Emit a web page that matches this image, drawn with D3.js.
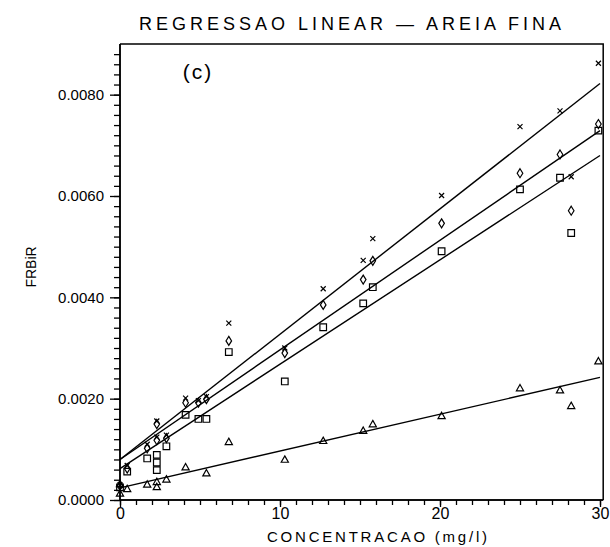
<!DOCTYPE html>
<html>
<head>
<meta charset="utf-8">
<script src="https://cdn.jsdelivr.net/npm/d3@7"></script>
<style>
  body { margin: 0; background: #fff; }
  text { font-family: "Liberation Sans", Arial, sans-serif; fill: #000; }
</style>
</head>
<body>
<div id="chart"></div>
<script>
var svgWidth = 610;
var svgHeight = 547;

// Data (concentration in mg/l, FRBiR)
var crossX = [0, 0.45, 1.7, 2.3, 2.3, 2.9, 4.1, 4.9, 5.4, 6.8, 10.3, 12.7, 15.2, 15.8, 20.1, 25.0, 27.5, 28.2, 29.9];
var crossY = [0.00030, 0.00068, 0.00110, 0.00156, 0.00124, 0.00128, 0.00201, 0.00196, 0.00204, 0.00349, 0.00300, 0.00417, 0.00473, 0.00516, 0.00601, 0.00737, 0.00768, 0.00638, 0.00862];

var diamondX = [0, 0.45, 1.7, 2.3, 2.3, 2.9, 4.1, 4.9, 5.4, 6.8, 10.3, 12.7, 15.2, 15.8, 20.1, 25.0, 27.5, 28.2, 29.9];
var diamondY = [0.00028, 0.00062, 0.00102, 0.00150, 0.00118, 0.00122, 0.00192, 0.00192, 0.00199, 0.00314, 0.00290, 0.00385, 0.00435, 0.00472, 0.00546, 0.00645, 0.00682, 0.00571, 0.00742];

var squareX = [0, 0.45, 1.7, 2.3, 2.3, 2.3, 2.9, 4.1, 4.9, 5.4, 6.8, 10.3, 12.7, 15.2, 15.8, 20.1, 25.0, 27.5, 28.2, 29.9];
var squareY = [0.00025, 0.00056, 0.00082, 0.00089, 0.00074, 0.00059, 0.00106, 0.00168, 0.00160, 0.00160, 0.00292, 0.00234, 0.00341, 0.00388, 0.00420, 0.00491, 0.00613, 0.00636, 0.00527, 0.00729];

var triX = [0, 0, 0.45, 1.7, 2.3, 2.3, 2.9, 4.1, 5.4, 6.8, 10.3, 12.7, 15.2, 15.8, 20.1, 25.0, 27.5, 28.2, 29.9];
var triY = [0.00013, 0.00032, 0.00022, 0.00031, 0.00026, 0.00036, 0.00041, 0.00065, 0.00053, 0.00115, 0.00080, 0.00117, 0.00137, 0.00150, 0.00166, 0.00221, 0.00217, 0.00186, 0.00274];

// regression lines, values at x = 0 and x = 30
var fitX = [0, 30];
var fitCross = [0.00080, 0.00822];
var fitDiamond = [0.00080, 0.00729];
var fitSquare = [0.00062, 0.00680];
var fitTri = [0.00024, 0.00242];

var xMajor = [0, 10, 20, 30];
var yMajor = [0, 0.002, 0.004, 0.006, 0.008];

var svg = d3.select("#chart")
  .append("svg")
  .attr("width", svgWidth)
  .attr("height", svgHeight);

var x = d3.scaleLinear().domain([0, 30]).range([120, 600]);
var y = d3.scaleLinear().domain([0, 0.009]).range([500, 44]);

var xMinor = d3.range(0, 31, 1);
var yMinor = d3.range(0, 45, 1).map(d => d * 0.0002);

// frame (top and right)
svg.append("path")
  .attr("d", `M${x(0)},${y(0.009)} H${x(30.2)} V${y(0)}`)
  .attr("fill", "none")
  .attr("stroke", "#000")
  .attr("stroke-width", 1.5);

// x axis
var gx = svg.append("g").attr("transform", `translate(0, ${y(0)})`);
gx.call(d3.axisBottom(x).tickValues(xMinor).tickSize(5).tickFormat(""));
gx.append("g").call(d3.axisBottom(x).tickValues(xMajor).tickSize(7).tickPadding(1)
  .tickFormat(d3.format("d")));
gx.selectAll(".domain").attr("stroke-width", 1.5).attr("d", `M${x(0)},0H${x(30.2)}`);
gx.selectAll("line").attr("stroke-width", 1.3);
gx.selectAll("text").style("font-size", "16px").attr("fill", "#000");

// y axis
var gy = svg.append("g").attr("transform", `translate(${x(0)}, 0)`);
gy.call(d3.axisLeft(y).tickValues(yMinor).tickSize(6).tickFormat(""));
gy.append("g").call(d3.axisLeft(y).tickValues(yMajor).tickSize(10).tickPadding(6)
  .tickFormat(d3.format(".4f")));
gy.selectAll(".domain").attr("stroke-width", 1.5).attr("d", `M0,${y(0.009)}V${y(0)}`);
gy.selectAll("line").attr("stroke-width", 1.3);
gy.selectAll("text").style("font-size", "15px").attr("fill", "#000");

// regression lines
var line = d3.line().x(d => x(d[0])).y(d => y(d[1]));
[fitCross, fitDiamond, fitSquare, fitTri].forEach(function(f) {
  svg.append("path")
    .datum(fitX.map((v, i) => [v, f[i]]))
    .attr("d", line)
    .attr("fill", "none")
    .attr("stroke", "#000")
    .attr("stroke-width", 1.4);
});

// markers
function pts(xs, ys) { return xs.map((v, i) => [v, ys[i]]); }

var marks = svg.append("g")
  .attr("fill", "none")
  .attr("stroke", "#000")
  .attr("stroke-width", 1.2);

marks.selectAll(".cross").data(pts(crossX, crossY)).enter().append("path")
  .attr("transform", d => `translate(${x(d[0])},${y(d[1])})`)
  .attr("d", "M-2.5,-2.5L2.5,2.5M-2.5,2.5L2.5,-2.5");

marks.selectAll(".diamond").data(pts(diamondX, diamondY)).enter().append("path")
  .attr("transform", d => `translate(${x(d[0])},${y(d[1])})`)
  .attr("d", "M0,-4.5L2.8,0L0,4.5L-2.8,0Z");

marks.selectAll(".square").data(pts(squareX, squareY)).enter().append("path")
  .attr("transform", d => `translate(${x(d[0])},${y(d[1])})`)
  .attr("d", "M-3.3,-3.3H3.3V3.3H-3.3Z");

marks.selectAll(".tri").data(pts(triX, triY)).enter().append("path")
  .attr("transform", d => `translate(${x(d[0])},${y(d[1])})`)
  .attr("d", "M0,-3.6L3.6,2.8H-3.6Z");

// titles and labels
svg.append("text")
  .attr("x", 350).attr("y", 30)
  .attr("text-anchor", "middle")
  .attr("textLength", 422).attr("lengthAdjust", "spacing")
  .style("font-size", "18px")
  .text("REGRESSAO LINEAR \u2014 AREIA FINA");

svg.append("text")
  .attr("x", 198).attr("y", 79)
  .attr("text-anchor", "middle")
  .style("font-size", "21px")
  .attr("letter-spacing", "2px")
  .text("(c)");

svg.append("text")
  .attr("x", 377).attr("y", 542)
  .attr("text-anchor", "middle")
  .attr("textLength", 220).attr("lengthAdjust", "spacing")
  .style("font-size", "15px")
  .text("CONCENTRACAO (mg/l)");

svg.append("text")
  .attr("transform", "translate(36, 267) rotate(-90)")
  .attr("text-anchor", "middle")
  .style("font-size", "14px")
  .text("FRBiR");
</script>
</body>
</html>
